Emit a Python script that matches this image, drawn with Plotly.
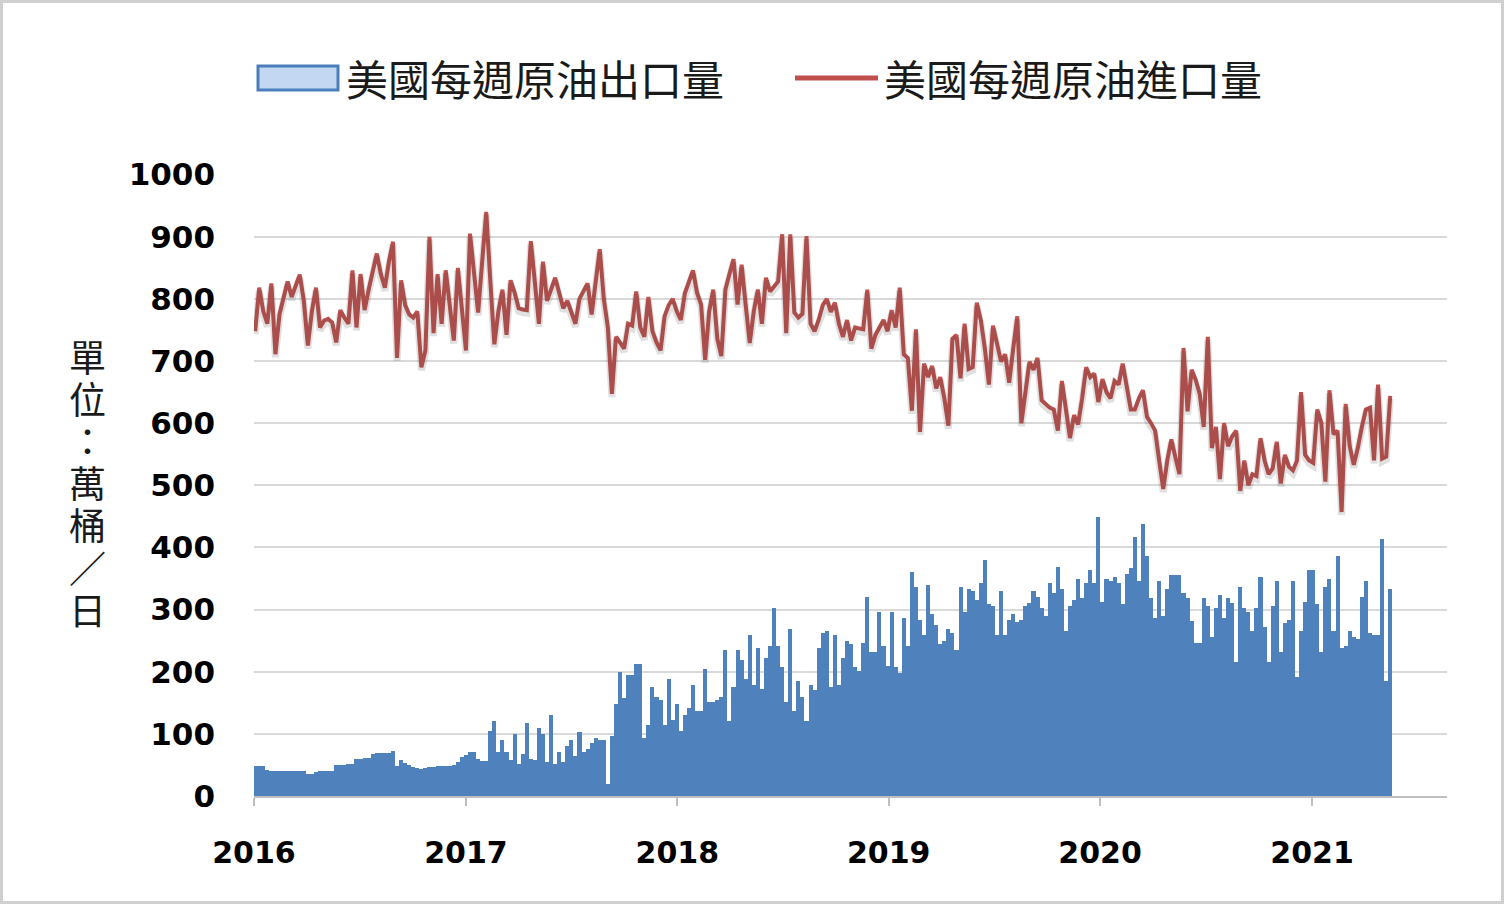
import pandas as pd
import plotly.graph_objects as go

# ---------------- data ----------------
start_date = "2016-01-03"   # first weekly observation

# US weekly crude oil imports (萬桶/日)
imports = [
    748, 818, 780, 760, 825, 711, 775, 800, 828, 803,
    820, 839, 797, 725, 780, 818, 754, 765, 768, 762,
    730, 782, 770, 760, 846, 754, 840, 782, 815, 845,
    873, 840, 818, 860, 892, 705, 830, 790, 775, 770,
    780, 690, 717, 900, 745, 840, 760, 846, 790, 733,
    850, 780, 717, 905, 840, 778, 860, 940, 830, 727,
    780, 815, 742, 830, 810, 785, 783, 782, 893, 820,
    760, 860, 797, 815, 834, 810, 785, 797, 780, 760,
    800, 812, 825, 775, 830, 880, 800, 754, 647, 739,
    730, 720, 760, 757, 812, 754, 739, 803, 748, 730,
    717, 772, 790, 800, 780, 766, 809, 830, 846, 810,
    791, 702, 780, 815, 736, 708, 815, 840, 864, 791,
    855, 790, 729, 780, 815, 760, 834, 812, 820, 828,
    904, 745, 904, 778, 770, 776, 901, 760, 748, 766,
    790, 800, 779, 794, 760, 739, 766, 733, 754, 752,
    751, 815, 720, 742, 755, 766, 748, 782, 754, 818,
    711, 705, 620, 751, 586, 696, 674, 692, 656, 674,
    640, 596, 736, 742, 672, 760, 687, 690, 794, 766,
    720, 662, 757, 730, 699, 711, 665, 720, 772, 600,
    650, 699, 686, 705, 637, 630, 625, 622, 588, 668,
    620, 576, 613, 598, 640, 690, 674, 680, 634, 671,
    650, 640, 668, 662, 696, 660, 622, 622, 640, 653,
    610, 600, 588, 540, 494, 540, 574, 545, 518, 721,
    619, 686, 670, 647, 594, 739, 560, 594, 510, 600,
    563, 579, 588, 491, 540, 500, 518, 515, 576, 540,
    518, 527, 570, 503, 549, 530, 524, 540, 650, 549,
    540, 536, 622, 600, 506, 653, 582, 588, 457, 631,
    563, 533, 560, 594, 622, 625, 540, 662, 543, 546,
    644,
]

# US weekly crude oil exports (萬桶/日)
exports = [
    49, 49, 49, 42, 41, 41, 41, 41, 41, 41,
    41, 41, 40, 36, 36, 38, 40, 40, 40, 40,
    50, 50, 50, 51, 52, 60, 60, 61, 61, 68,
    69, 69, 70, 70, 73, 48, 58, 53, 50, 47,
    45, 44, 45, 47, 46, 48, 49, 49, 49, 50,
    55, 62, 66, 71, 71, 60, 57, 57, 105, 120,
    71, 90, 71, 58, 100, 52, 68, 117, 60, 58,
    109, 100, 55, 130, 52, 71, 55, 80, 90, 65,
    103, 71, 75, 86, 93, 90, 90, 20, 96, 148,
    200, 157, 194, 194, 213, 213, 93, 114, 176, 160,
    154, 114, 188, 123, 148, 105, 130, 142, 179, 136,
    136, 204, 151, 151, 155, 160, 235, 120, 176, 235,
    219, 188, 259, 179, 238, 173, 222, 241, 302, 241,
    207, 151, 269, 136, 185, 160, 120, 179, 170, 238,
    262, 265, 176, 259, 179, 222, 250, 244, 207, 201,
    247, 321, 231, 231, 296, 241, 210, 296, 207, 198,
    287, 241, 361, 336, 284, 259, 340, 293, 275, 244,
    250, 269, 262, 235, 336, 296, 333, 330, 315, 343,
    380, 309, 306, 259, 330, 259, 284, 293, 280, 284,
    306, 310, 330, 321, 302, 290, 343, 327, 369, 333,
    265, 306, 315, 349, 318, 343, 364, 343, 449, 312,
    349, 346, 352, 343, 309, 358, 367, 417, 346, 438,
    387, 318, 287, 346, 290, 333, 355, 355, 355, 327,
    318, 281, 247, 247, 318, 306, 256, 302, 324, 287,
    318, 310, 216, 336, 302, 296, 265, 302, 352, 272,
    216, 306, 346, 231, 278, 284, 346, 191, 265, 312,
    364, 364, 309, 231, 336, 349, 265, 387, 238, 241,
    265, 256, 253, 321, 346, 262, 259, 259, 414, 185,
    333,
]

year_ticks = ["2016-01-01", "2017-01-01", "2018-01-01", "2019-01-01", "2020-01-01", "2021-01-01"]
year_labels = ["2016", "2017", "2018", "2019", "2020", "2021"]
y_ticks = [0, 100, 200, 300, 400, 500, 600, 700, 800, 900, 1000]
name_export = "美國每週原油出口量"
name_import = "美國每週原油進口量"
y_title = "單位：萬桶／日"

assert len(imports) == len(exports)
dates = pd.date_range(start_date, periods=len(imports), freq="7D")

# ---------------- layout geometry ----------------
W, H = 1504, 904
L, R, T, B = 254, 1447, 174, 796


def px(x):
    return (x - L) / (R - L)


def py(y):
    return (B - y) / (B - T)


CJK = "Noto Sans CJK TC"
NUM = "DejaVu Sans"
BLUE = "#4F81BD"
RED = "#C0504D"

fig = go.Figure()
fig.add_trace(go.Bar(x=dates, y=exports, name=name_export,
                     marker=dict(color=BLUE, line=dict(width=0))))
# soft drop shadow of the red line (same data, axis shifted a few px)
fig.add_trace(go.Scatter(x=dates, y=imports, mode="lines", yaxis="y2",
                         line=dict(color="rgba(60,60,60,0.16)", width=7),
                         hoverinfo="skip", showlegend=False))
fig.add_trace(go.Scatter(x=dates, y=imports, mode="lines", name=name_import,
                         line=dict(color=RED, width=4)))

ymax = 1001
shift = 3 * ymax / (B - T)

fig.update_layout(
    width=W, height=H,
    margin=dict(l=L, r=W - R, t=T, b=H - B, pad=0),
    paper_bgcolor="white", plot_bgcolor="white",
    bargap=0,
    showlegend=False,
    xaxis=dict(
        type="date", range=["2016-01-01", "2021-08-22"],
        tickvals=year_ticks, ticktext=year_labels,
        ticks="outside", ticklen=8, tickwidth=2, tickcolor="#bfbfbf",
        showline=True, linecolor="#bfbfbf", linewidth=2,
        showgrid=False, zeroline=False,
        tickfont=dict(family=NUM, size=30, color="black", weight="bold"),
        ticklabelstandoff=21,
    ),
    yaxis=dict(
        range=[0, ymax], tickvals=y_ticks,
        showgrid=True, gridcolor="#d9d9d9", gridwidth=2,
        zeroline=False, showline=False, ticks="",
        tickfont=dict(family=NUM, size=31, color="black", weight="bold"),
        ticklabelstandoff=38,
    ),
    yaxis2=dict(range=[shift, ymax + shift], overlaying="y", visible=False),
)

shapes = []
# outer frame
shapes.append(dict(type="rect", xref="paper", yref="paper",
                   x0=px(1.5), x1=px(1502.5), y0=py(902.5), y1=py(1.5),
                   line=dict(color="#d0d0d0", width=3), fillcolor="rgba(0,0,0,0)"))
# legend symbols
shapes.append(dict(type="rect", xref="paper", yref="paper",
                   x0=px(258), x1=px(338), y0=py(90), y1=py(66),
                   line=dict(color="#4a7ebb", width=3), fillcolor="#c3d7f3"))
shapes.append(dict(type="line", xref="paper", yref="paper",
                   x0=px(795), x1=px(878), y0=py(78), y1=py(78),
                   line=dict(color=RED, width=5)))
fig.update_layout(shapes=shapes)

annotations = [
    dict(text=name_export, xref="paper", yref="paper", x=px(344), y=py(78),
         xanchor="left", yanchor="middle", showarrow=False,
         font=dict(family=CJK, size=42, color="#1a1a1a")),
    dict(text=name_import, xref="paper", yref="paper", x=px(882), y=py(78),
         xanchor="left", yanchor="middle", showarrow=False,
         font=dict(family=CJK, size=42, color="#1a1a1a")),
]
# vertical (stacked) axis title, one character per text
for i, ch in enumerate(y_title):
    annotations.append(dict(text=ch, xref="paper", yref="paper",
                            x=px(88), y=py(359 + 42.2 * i),
                            xanchor="center", yanchor="middle", showarrow=False,
                            font=dict(family="Liberation Sans, " + CJK, size=37,
                                      color="#1a1a1a")))
fig.update_layout(annotations=annotations)

fig.write_html("out.html")
